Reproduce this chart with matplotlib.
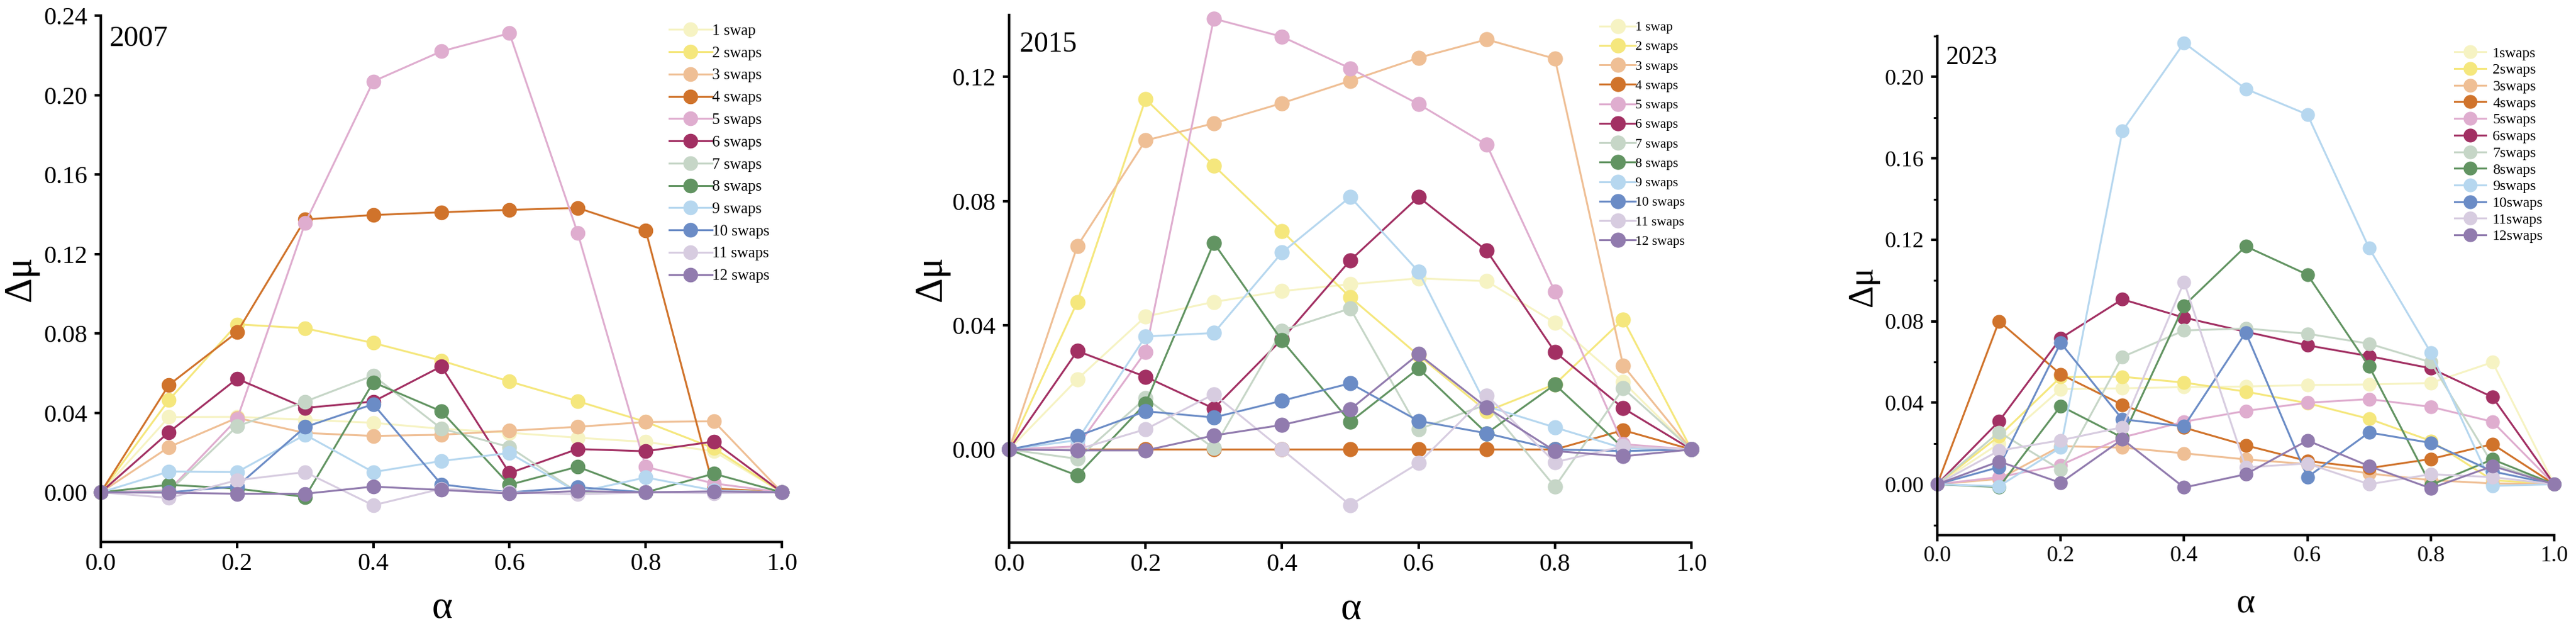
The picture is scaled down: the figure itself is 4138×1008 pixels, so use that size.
import matplotlib
matplotlib.use("Agg")
import matplotlib.pyplot as plt
from matplotlib.ticker import MultipleLocator, FormatStrFormatter

# ---------------- data ----------------
alpha = [0.0, 0.1, 0.2, 0.3, 0.4, 0.5, 0.6, 0.7, 0.8, 0.9, 1.0]

labels_a = ["1 swap"] + [f"{k} swaps" for k in range(2, 13)]
labels_b = [f"{k}swaps" for k in range(1, 13)]

colors = ["#f6f3c3", "#f5e77d", "#efbf95", "#d0732b", "#dfadcf", "#a23063",
          "#c6d6c7", "#629462", "#b6d7ef", "#6b8cc6", "#d7cce0", "#917bae"]

y2007 = [
    [0, 0.0379, 0.038, 0.0366, 0.035, 0.032, 0.030, 0.0275, 0.0254, 0.0207, 0],
    [0, 0.0465, 0.0846, 0.0826, 0.0752, 0.0663, 0.0558, 0.0459, 0.0355, 0.0222, 0],
    [0, 0.0228, 0.0375, 0.0299, 0.0284, 0.029, 0.031, 0.033, 0.0354, 0.0358, 0],
    [0, 0.0541, 0.0806, 0.1374, 0.1396, 0.141, 0.1422, 0.1432, 0.1319, 0.002, 0],
    [0, 0.001, 0.0368, 0.1355, 0.2069, 0.222, 0.2311, 0.1307, 0.0128, 0.0045, 0],
    [0, 0.0303, 0.0572, 0.0425, 0.0457, 0.0634, 0.0097, 0.0218, 0.0207, 0.0256, 0],
    [0, 0.0005, 0.0332, 0.0457, 0.0588, 0.0321, 0.0228, 0.0, 0.0, 0.0, 0],
    [0, 0.0038, 0.0019, -0.0023, 0.0554, 0.0408, 0.0038, 0.0129, 0.0, 0.0094, 0],
    [0, 0.0105, 0.0102, 0.029, 0.0102, 0.0158, 0.0198, 0.0, 0.0075, 0.001, 0],
    [0, 0.0, 0.003, 0.0329, 0.0444, 0.004, 0.0, 0.0026, 0.0, 0.0, 0],
    [0, -0.0028, 0.0061, 0.0102, -0.0065, 0.0018, 0.0, -0.001, 0.0, -0.0004, 0],
    [0, -0.0002, -0.0007, -0.0007, 0.0029, 0.0012, -0.0006, 0.0006, 0.0, 0.0005, 0],
]

y2015 = [
    [0, 0.0226, 0.0428, 0.0475, 0.051, 0.0532, 0.0551, 0.0542, 0.0408, 0.0217, 0],
    [0, 0.0475, 0.1128, 0.0914, 0.0703, 0.049, 0.0303, 0.0123, 0.021, 0.0419, 0],
    [0, 0.0655, 0.0995, 0.105, 0.1115, 0.1187, 0.1261, 0.132, 0.1258, 0.027, 0],
    [0, 0.0, 0.0, 0.0, 0.0, 0.0, 0.0, 0.0, 0.0, 0.0062, 0],
    [0, 0.001, 0.0314, 0.1387, 0.1329, 0.1227, 0.1112, 0.0981, 0.0508, 0.0017, 0],
    [0, 0.0317, 0.0234, 0.0132, 0.0355, 0.0609, 0.0813, 0.064, 0.0314, 0.0133, 0],
    [0, -0.003, 0.0165, 0.0004, 0.0383, 0.0454, 0.0065, 0.0145, -0.012, 0.0197, 0],
    [0, -0.0084, 0.0148, 0.0665, 0.0351, 0.0089, 0.0261, 0.0052, 0.0209, 0.0005, 0],
    [0, 0.003, 0.0364, 0.0375, 0.0634, 0.0813, 0.0573, 0.0139, 0.0071, 0.0004, 0],
    [0, 0.0043, 0.0123, 0.0103, 0.0157, 0.0213, 0.0092, 0.0052, 0.0, -0.0005, 0],
    [0, 0.0, 0.0065, 0.0178, 0.0, -0.0179, -0.0044, 0.0174, -0.0041, 0.001, 0],
    [0, -0.0003, -0.0003, 0.0045, 0.0079, 0.0129, 0.0307, 0.0135, -0.0005, -0.0022, 0],
]

y2023 = [
    [0, 0.020, 0.0467, 0.0471, 0.0477, 0.048, 0.0487, 0.049, 0.0497, 0.0599, 0],
    [0, 0.0236, 0.0526, 0.0528, 0.0499, 0.0455, 0.0398, 0.0321, 0.0213, 0.002, 0],
    [0, 0.0026, 0.0187, 0.018, 0.0152, 0.0122, 0.0099, 0.0053, 0.002, 0.0004, 0],
    [0, 0.080, 0.054, 0.039, 0.0278, 0.0191, 0.0114, 0.0079, 0.0124, 0.0197, 0],
    [0, 0.0035, 0.0094, 0.023, 0.0307, 0.036, 0.040, 0.0418, 0.038, 0.0307, 0],
    [0, 0.0309, 0.0717, 0.0908, 0.0818, 0.0749, 0.0682, 0.0629, 0.0569, 0.0428, 0],
    [0, 0.0256, 0.0071, 0.0625, 0.0755, 0.0765, 0.0739, 0.069, 0.0599, 0.010, 0],
    [0, -0.0014, 0.0384, 0.0229, 0.0877, 0.1168, 0.1029, 0.0579, -0.0004, 0.0122, 0],
    [0, -0.001, 0.018, 0.1734, 0.2167, 0.1941, 0.1815, 0.1159, 0.0646, -0.0008, 0],
    [0, 0.0084, 0.0694, 0.0319, 0.0284, 0.0745, 0.0035, 0.0254, 0.0203, 0.0063, 0],
    [0, 0.0165, 0.0216, 0.028, 0.0993, 0.0083, 0.0102, 0.0, 0.0049, 0.0035, 0],
    [0, 0.0112, 0.0007, 0.0221, -0.0016, 0.0049, 0.0215, 0.0089, -0.002, 0.0089, 0],
]

years = ["2007", "2015", "2023"]

# ---------------- figure ----------------
W, H = 4138, 1008
plt.rcParams["font.family"] = ["Liberation Serif", "DejaVu Serif"]
fig = plt.figure(figsize=(W / 100, H / 100), dpi=100)


def fx(x):
    return x / W


def fy(y):
    return 1 - y / H


panels = [
    dict(data=y2007, labels=labels_a, box=(162, 25, 1256, 870), ylim=(-0.025, 0.24),
         tick_fs=29, lw=2.2, ms=16, minor=False,
         leg=dict(x=1075, y=38.5, fs=18, hl=2.75, htp=0.0, ls=0.53),
         year=(176, 74, 34), ylab=(49, 447, 45), xlab=(710, 992, 46)),
    dict(data=y2015, labels=labels_a, box=(1621, 23.5, 2717, 871), ylim=(-0.03, 0.14),
         tick_fs=29, lw=2.2, ms=16.5, minor=False,
         leg=dict(x=2570, y=34, fs=15.5, hl=2.65, htp=0.0, ls=0.52),
         year=(1638, 83, 33), ylab=(1512, 447, 45), xlab=(2170, 993, 46)),
    dict(data=y2023, labels=labels_b, box=(3112, 58, 4103, 859), ylim=(-0.025, 0.22),
         tick_fs=26, lw=2.2, ms=15, minor=True,
         leg=dict(x=3943, y=75, fs=17, hl=2.1, htp=0.5, ls=0.22),
         year=(3125, 103, 30), ylab=(3007, 459, 40), xlab=(3608, 983, 41)),
]

for p, yr in zip(panels, years):
    l, t, r, b = p["box"]
    ax = fig.add_axes([fx(l), fy(b), (r - l) / W, (b - t) / H])
    handles = []
    for vals, lab, c in zip(p["data"], p["labels"], colors):
        h, = ax.plot(alpha, vals, "-o", color=c, lw=p["lw"], ms=p["ms"],
                     label=lab, clip_on=False, solid_joinstyle="round")
        handles.append(h)
    ax.set_xlim(0, 1.0)
    ax.set_ylim(*p["ylim"])
    ax.xaxis.set_major_locator(MultipleLocator(0.2))
    ax.yaxis.set_major_locator(MultipleLocator(0.04))
    ax.xaxis.set_major_formatter(FormatStrFormatter("%.1f"))
    ax.yaxis.set_major_formatter(FormatStrFormatter("%.2f"))
    if p["minor"]:
        ax.yaxis.set_minor_locator(MultipleLocator(0.02))
        ax.tick_params(axis="y", which="minor", length=4, width=2.2, direction="out")
    for s in ("top", "right"):
        ax.spines[s].set_visible(False)
    for s in ("left", "bottom"):
        ax.spines[s].set_linewidth(2.9)
    ax.tick_params(axis="both", which="major", length=7.5, width=2.9,
                   labelsize=p["tick_fs"], direction="out")
    ax.tick_params(axis="x", pad=5)
    ax.tick_params(axis="y", pad=8)

    lg = p["leg"]
    ax.legend(handles=handles, loc="upper left",
              bbox_to_anchor=(fx(lg["x"]), fy(lg["y"])), bbox_transform=fig.transFigure,
              frameon=False, fontsize=lg["fs"], handlelength=lg["hl"],
              handletextpad=lg["htp"], labelspacing=lg["ls"], borderpad=0,
              borderaxespad=0)

    yx, yy, yfs = p["year"]
    fig.text(fx(yx), fy(yy), yr, fontsize=yfs, ha="left", va="baseline")
    lx, ly, lfs = p["ylab"]
    fig.text(fx(lx), fy(ly), "Δμ", fontsize=lfs, rotation=90, ha="center",
             va="baseline", rotation_mode="anchor")
    ax_, ay_, afs = p["xlab"]
    fig.text(fx(ax_), fy(ay_), "α", fontsize=afs, ha="center", va="baseline")

fig.savefig("out.png", dpi=100)
